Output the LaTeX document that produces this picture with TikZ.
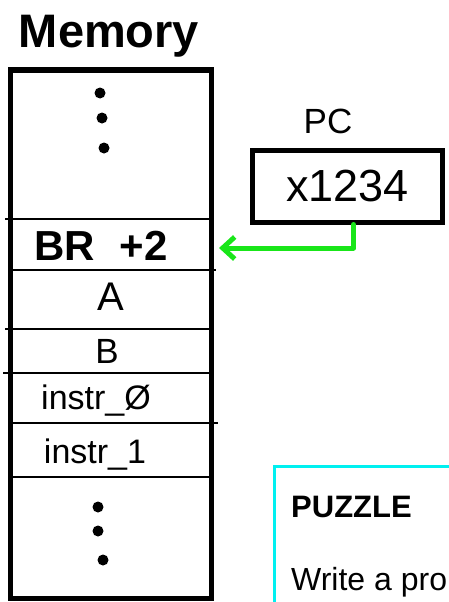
\documentclass[tikz,border=0pt]{standalone}
\usepackage{fontspec}
\setmainfont{Liberation Sans}
\usetikzlibrary{arrows.meta}
\definecolor{pcgreen}{RGB}{25,230,25}
\definecolor{puzzlecyan}{RGB}{0,240,240}
\newcommand{\fsz}[1]{\fontsize{#1pt}{#1pt}\selectfont}
\begin{document}
\begin{tikzpicture}[x=1pt, y=-1pt, >={Straight Barb[length=12pt,width=22pt]}]
  \useasboundingbox (0,0) rectangle (449,602);
  \clip (0,0) rectangle (449,602);
  % memory column
  \node (title) at (109,36) {\fsz{47}\bfseries Memory};
  \draw[line width=5pt] (10,70) rectangle (211,598);
  \foreach \y/\l/\r in {219/5/211, 270/10/216, 329/5/211, 373/3/211, 423/10/218, 477/10/214}
    \draw[line width=2.5pt] (\l,\y) -- (\r,\y);
  \foreach \x/\y in {100/93, 102/118, 104/148, 98/507, 98/531, 103/560}
    \fill (\x,\y) circle (5.5pt);
  \node (br) at (101,246) {\fsz{42}\bfseries BR\hspace{0.6em}+2};
  \node (a) at (111,297) {\fsz{40}A};
  \node (b) at (107,351) {\fsz{35}B};
  \node (instr0) at (96,401) {\fsz{34}instr\_Ø};
  \node (instr1) at (95,455) {\fsz{34}instr\_1};
  % program counter
  \node (pclabel) at (328,121) {\fsz{35}PC};
  \node[draw, line width=5pt, minimum width=190pt, minimum height=72pt] (pc) at (347.5,186) {\fsz{45}x1234};
  \coordinate (brtip) at (219,248);
  \draw[pcgreen, line width=5pt, line cap=round, line join=round, ->] ([xshift=6pt]pc.south) |- (brtip);
  % puzzle box
  \draw[puzzlecyan, line width=3pt, fill=white] (274,466) rectangle (470,620);
  \node[anchor=base west, inner sep=0pt] (puzzle) at (291,517) {\fsz{31}\bfseries PUZZLE};
  \node[anchor=base west, inner sep=0pt] (task) at (291,590) {\fsz{32}Write a pro};
\end{tikzpicture}
\end{document}
